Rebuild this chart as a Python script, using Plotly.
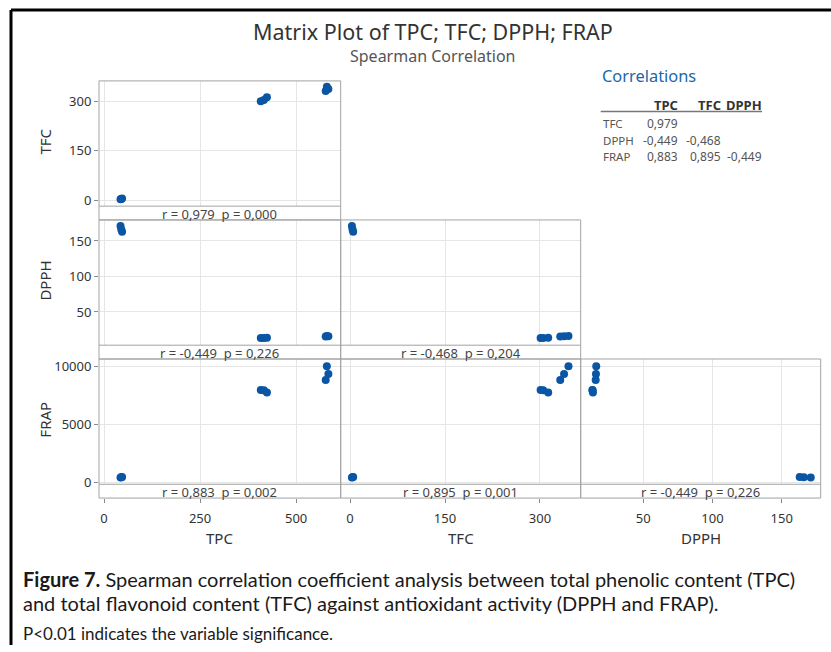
import plotly.graph_objects as go

# samples (3 extracts x 3 replicates)
tpc = [43, 45, 47, 408, 416, 424, 577, 584, 580]
tfc = [3, 4, 5, 301, 305, 313, 332, 338, 345]
dpph = [171, 166, 163, 13.2, 13.4, 13.6, 15.6, 15.8, 16.0]
frap = [430, 460, 480, 7960, 7930, 7730, 8820, 9320, 10000]

var_names = ['TPC', 'TFC', 'DPPH', 'FRAP']

# r / p shown under each panel
r_text = ['0,979', '-0,449', '-0,468', '0,883', '0,895', '-0,449']
p_text = ['0,000', '0,226', '0,204', '0,002', '0,001', '0,226']

# correlations table
table_cols = ['TPC', 'TFC', 'DPPH']
table_rows = ['TFC', 'DPPH', 'FRAP']
table_vals = [['0,979'], ['-0,449', '-0,468'], ['0,883', '0,895', '-0,449']]

x_ticks = [[0, 250, 500], [0, 150, 300], [50, 100, 150]]
y_ticks = [[0, 150, 300], [50, 100, 150], [0, 5000, 10000]]

W, H = 831, 652
FONT = 'Noto Sans'
BLUE = '#0a55a4'
BORDER = '#a3a3a3'


def fx(x):
    return x / W


def fy(y):
    return 1 - y / H


series = {'TPC': tpc, 'TFC': tfc, 'DPPH': dpph, 'FRAP': frap}

col_px = [(99, 340.7), (340.7, 580.7), (580.7, 820.7)]
row_top = [80, 221, 362]
plot_h, strip_h = 127, 14
x_ranges = [[-13, 616], [-14.7, 364.3], [4.77, 178.2]]
y_ranges = [[-18, 363], [3.2, 179.6], [-144, 10619]]

# lower triangle panels: (row, col)
panels = [(0, 0), (1, 0), (1, 1), (2, 0), (2, 1), (2, 2)]

fig = go.Figure()
layout = dict(
    width=W, height=H,
    margin=dict(l=0, r=0, t=0, b=0),
    paper_bgcolor='white', plot_bgcolor='white',
    showlegend=False,
    font=dict(family=FONT, color='#444'),
)
shapes = []
annotations = []

for i, (r, c) in enumerate(panels):
    n = '' if i == 0 else str(i + 1)
    xname = var_names[c]
    yname = var_names[r + 1]
    fig.add_trace(go.Scatter(
        x=series[xname], y=series[yname], mode='markers',
        marker=dict(color=BLUE, size=8),
        xaxis='x' + n, yaxis='y' + n,
    ))
    x0, x1 = col_px[c]
    top = row_top[r]
    bottom = top + plot_h
    strip_bottom = bottom + strip_h
    bottom_row = (r == 2)
    left_col = (c == 0)

    xa = dict(
        domain=[fx(x0), fx(x1)], range=x_ranges[c],
        tickvals=x_ticks[c], showgrid=True, gridcolor='#e6e6e6', gridwidth=1,
        zeroline=False, showline=False,
        showticklabels=bottom_row, ticks='outside' if bottom_row else '',
        ticklen=4, tickcolor='#8a8a8a', ticklabelstandoff=4,
        tickfont=dict(size=13, color='#333', family=FONT),
    )
    if bottom_row:
        xa.update(anchor='free', position=fy(strip_bottom))
    else:
        xa.update(anchor='y' + n)
    ya = dict(
        domain=[fy(bottom), fy(top)], range=y_ranges[r],
        tickvals=y_ticks[r], tickformat='d', showgrid=True, gridcolor='#e6e6e6', gridwidth=1,
        zeroline=False, showline=False, anchor='x' + n,
        showticklabels=left_col, ticks='outside' if left_col else '',
        ticklen=4, tickcolor='#8a8a8a',
        tickfont=dict(size=13, color='#333', family=FONT),
    )
    layout['xaxis' + n] = xa
    layout['yaxis' + n] = ya

    # panel frame + strip separator
    shapes.append(dict(type='rect', xref='paper', yref='paper',
                       x0=fx(x0), x1=fx(x1), y0=fy(strip_bottom), y1=fy(top),
                       line=dict(color=BORDER, width=1)))
    shapes.append(dict(type='line', xref='paper', yref='paper',
                       x0=fx(x0), x1=fx(x1), y0=fy(bottom), y1=fy(bottom),
                       line=dict(color=BORDER, width=1)))
    annotations.append(dict(
        text=f'r = {r_text[i]}&nbsp;&nbsp;p = {p_text[i]}', xref='paper', yref='paper',
        x=fx((x0 + x1) / 2), y=fy(bottom + strip_h / 2 + 0.5),
        xanchor='center', yanchor='middle', showarrow=False,
        font=dict(size=13, color='#444', family=FONT)))

# axis titles
for c in range(3):
    x0, x1 = col_px[c]
    annotations.append(dict(text=var_names[c], xref='paper', yref='paper',
                            x=fx((x0 + x1) / 2), y=fy(543), xanchor='center', yanchor='middle',
                            showarrow=False, font=dict(size=15, color='#333', family=FONT)))
for r in range(3):
    annotations.append(dict(text=var_names[r + 1], xref='paper', yref='paper',
                            x=fx(45), y=fy(row_top[r] + plot_h / 2 - 2), textangle=-90,
                            xanchor='center', yanchor='middle',
                            showarrow=False, font=dict(size=15, color='#333', family=FONT)))

# title
annotations.append(dict(text='Matrix Plot of TPC; TFC; DPPH; FRAP', xref='paper', yref='paper',
                        x=fx(433), y=fy(30), xanchor='center', yanchor='middle', showarrow=False,
                        font=dict(size=21.5, color='#333', family=FONT)))
annotations.append(dict(text='Spearman Correlation', xref='paper', yref='paper',
                        x=fx(433), y=fy(55), xanchor='center', yanchor='middle', showarrow=False,
                        font=dict(size=16, color='#555', family=FONT)))

# correlations table
annotations.append(dict(text='Correlations', xref='paper', yref='paper',
                        x=fx(600), y=fy(75), xanchor='left', yanchor='middle', showarrow=False,
                        font=dict(size=16.4, color='#1a68a8', family=FONT)))
col_right = [680, 723, 764]
for j, name in enumerate(table_cols):
    annotations.append(dict(text=f'<b>{name}</b>', xref='paper', yref='paper',
                            x=fx(col_right[j]), y=fy(104), xanchor='right', yanchor='middle',
                            showarrow=False, font=dict(size=13, color='#333', family=FONT)))
shapes.append(dict(type='line', xref='paper', yref='paper',
                   x0=fx(600.7), x1=fx(762), y0=fy(111), y1=fy(111),
                   line=dict(color='#777', width=1.5)))
row_y = [123, 140, 157]
for i, name in enumerate(table_rows):
    annotations.append(dict(text=name, xref='paper', yref='paper',
                            x=fx(601), y=fy(row_y[i]), xanchor='left', yanchor='middle',
                            showarrow=False, font=dict(size=11.5, color='#555', family=FONT)))
    for j, v in enumerate(table_vals[i]):
        annotations.append(dict(text=v, xref='paper', yref='paper',
                                x=fx(col_right[j]), y=fy(row_y[i]), xanchor='right', yanchor='middle',
                                showarrow=False, font=dict(size=12, color='#555', family=FONT)))

# caption
annotations.append(dict(
    text='<b>Figure 7.</b> Spearman correlation coefficient analysis between total phenolic content (TPC)',
    xref='paper', yref='paper', x=fx(21), y=fy(585), xanchor='left', yanchor='middle',
    showarrow=False, font=dict(size=20, color='#1a1a1a', family='Lato')))
annotations.append(dict(
    text='and total flavonoid content (TFC) against antioxidant activity (DPPH and FRAP).',
    xref='paper', yref='paper', x=fx(21), y=fy(609), xanchor='left', yanchor='middle',
    showarrow=False, font=dict(size=20, color='#1a1a1a', family='Lato')))
annotations.append(dict(
    text='P<0.01 indicates the variable significance.',
    xref='paper', yref='paper', x=fx(21), y=fy(640), xanchor='left', yanchor='middle',
    showarrow=False, font=dict(size=17, color='#1a1a1a', family='Lato')))

# outer frame (top and left edges)
shapes.append(dict(type='line', xref='paper', yref='paper', x0=fx(11), x1=1, y0=fy(8), y1=fy(8),
                   line=dict(color='black', width=3)))
shapes.append(dict(type='line', xref='paper', yref='paper', x0=fx(11), x1=fx(11), y0=0, y1=fy(8),
                   line=dict(color='black', width=3)))

layout['shapes'] = shapes
layout['annotations'] = annotations
fig.update_layout(**layout)

fig.write_html('out.html', config={'displayModeBar': False},
               post_script="document.body.style.margin='0';")
